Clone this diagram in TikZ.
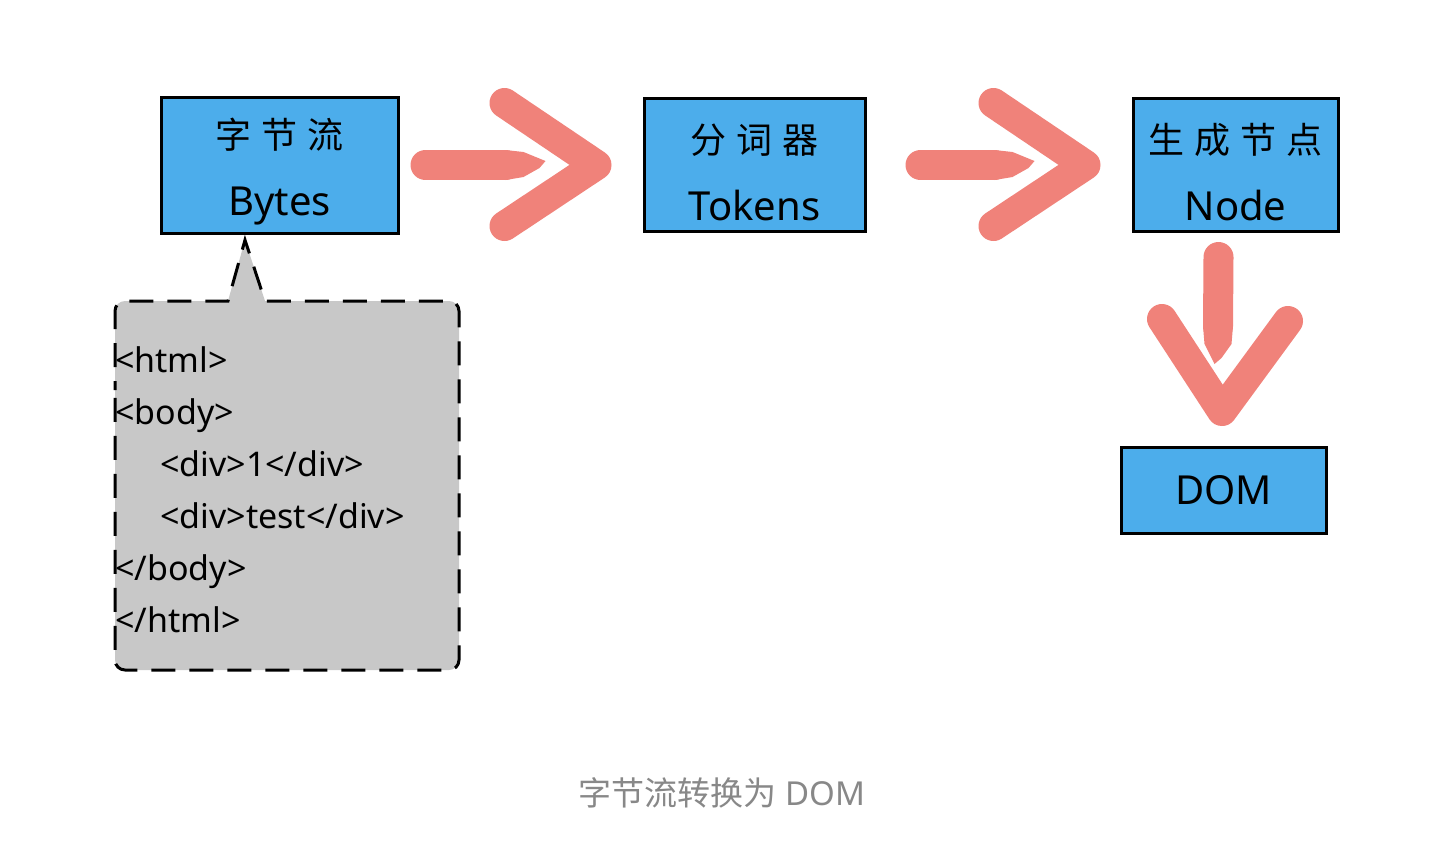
\documentclass[tikz,border=0pt]{standalone}
\usepackage{fontspec}
\setmainfont{Noto Sans}
\newfontfamily\cjk[WordSpace=1.2]{Noto Sans CJK SC}
\usepackage{tikz}
\usetikzlibrary{positioning}
\definecolor{boxblue}{HTML}{4CADEB}
\definecolor{brushred}{HTML}{F0827A}
\definecolor{calloutgray}{HTML}{C8C8C8}
\definecolor{captiongray}{HTML}{888888}
\newcommand{\boxcjk}{\cjk\fontsize{36}{48}\selectfont}

\begin{document}
\begin{tikzpicture}[x=1pt, y=-1pt,
	block/.style={draw=black, line width=3pt, fill=boxblue, align=center, inner sep=0pt, font=\fontsize{40}{48}\selectfont},
	brush/.style={draw=brushred, line width=30pt, line cap=round, line join=round},
	callout/.style={draw=black, line width=3pt, fill=calloutgray, dash pattern=on 24pt off 14pt, dash phase=15pt},
	code/.style={align=left, inner sep=0pt, font=\fontsize{34}{52}\selectfont}]
	\useasboundingbox[fill=white] (0,0) rectangle (1440,860);
	
	% boxes
	\node[block, minimum width=237pt, minimum height=136pt] (bytes) at (279.5,165) {\rule{0pt}{44pt}{\boxcjk 字 节 流}\\[19pt]Bytes};
	\node[block, minimum width=221pt, minimum height=133pt, right=243pt of bytes] (tokens) {\rule{0pt}{44pt}{\boxcjk 分 词 器}\\[19pt]Tokens};
	\node[block, minimum width=205pt, minimum height=133pt, right=265pt of tokens] (nodes) {\rule{0pt}{44pt}{\boxcjk 生 成 节 点}\\[19pt]Node};
	\node[block, minimum width=205pt, minimum height=86pt, below=213pt of nodes, xshift=-12pt] (dom) {DOM};
	
	% callout with the bytes
	\draw[callout] (115,400) [rounded corners=10pt] -- (115,301) [sharp corners] -- (228,301) -- (245,240) -- (265,301) [rounded corners=10pt] -- (459,301) -- (459,670) -- (115,670) -- cycle;
	\node[code, anchor=north west] (html) at (115,346) {<html>\\<body>\\\hspace*{45pt}<div>1</div>\\\hspace*{45pt}<div>test</div>\\</body>\\</html>};
	
	% brush arrows
	\draw[brush] ([xshift=26pt]bytes.east) -- ([xshift=-137pt]tokens.west);
	\fill[brushred] ([shift={(-137,-15)}]tokens.west) -- ([shift={(-119,-13)}]tokens.west) -- ([shift={(-97,-4)}]tokens.west) -- ([shift={(-103,3)}]tokens.west) -- ([shift={(-119,12)}]tokens.west) -- ([shift={(-137,15)}]tokens.west) -- cycle;
	\draw[brush] ([shift={(-138,-62)}]tokens.west) -- ([xshift=-46pt]tokens.west) -- ([shift={(-138,61)}]tokens.west);
	
	\draw[brush] ([xshift=54pt]tokens.east) -- ([xshift=-137pt]nodes.west);
	\fill[brushred] ([shift={(-137,-15)}]nodes.west) -- ([shift={(-119,-13)}]nodes.west) -- ([shift={(-97,-4)}]nodes.west) -- ([shift={(-103,3)}]nodes.west) -- ([shift={(-119,12)}]nodes.west) -- ([shift={(-137,15)}]nodes.west) -- cycle;
	\draw[brush] ([shift={(-138,-62)}]nodes.west) -- ([xshift=-46pt]nodes.west) -- ([shift={(-138,61)}]nodes.west);
	
	\draw[brush] ([shift={(-17,24)}]nodes.south) -- ([shift={(-5.5,-120)}]dom.north);
	\fill[brushred] ([shift={(-20.5,-120)}]dom.north) -- ([shift={(-19,-102)}]dom.north) -- ([shift={(-9,-82)}]dom.north) -- ([shift={(-2,-88)}]dom.north) -- ([shift={(8,-102)}]dom.north) -- ([shift={(9.5,-120)}]dom.north) -- cycle;
	\draw[brush] ([shift={(-61.5,-127)}]dom.north) -- ([shift={(-1.5,-35)}]dom.north) -- ([shift={(64.5,-125)}]dom.north);
	
	% caption
	\node[font=\fontsize{33}{40}\selectfont, text=captiongray] (caption) at (722,793) {{\cjk 字节流转换为} DOM};
\end{tikzpicture}
\end{document}
